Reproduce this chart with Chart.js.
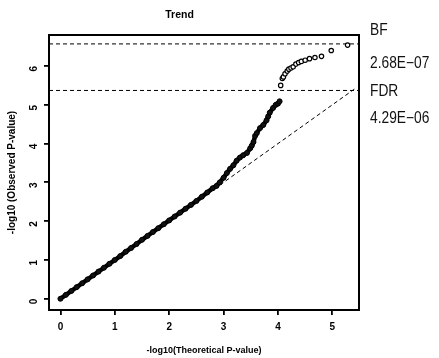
<!DOCTYPE html>
<html>
<head>
<meta charset="utf-8">
<script src="https://cdn.jsdelivr.net/npm/chart.js@4.4.1/dist/chart.umd.min.js"></script>
<style>
  html, body { margin: 0; padding: 0; background: #fff; }
  #wrap { position: relative; width: 439px; height: 358px; }
  .ann { position: absolute; left: 370px; font-family: "Liberation Sans", Arial, sans-serif; font-size: 16px; color: #111; line-height: 1; transform: scaleX(0.86); transform-origin: 0 0; white-space: nowrap; }
</style>
</head>
<body>
<div id="wrap">
  <canvas id="c" width="439" height="358"></canvas>
  <div class="ann" style="top:22px;">BF</div>
  <div class="ann" style="top:55px;">2.68E−07</div>
  <div class="ann" style="top:83px;">FDR</div>
  <div class="ann" style="top:110px;">4.29E−06</div>
</div>
<script>
// ---- data ----
const chartTitle = "Trend";
const xAxisTitle = "-log10(Theoretical P-value)";
const yAxisTitle = "-log10 (Observed P-value)";
const xTickValues = [0, 1, 2, 3, 4, 5];
const yTickValues = [0, 1, 2, 3, 4, 5, 6];

// dense body of the QQ curve (expected vs observed)
const denseX = [0.00,0.10,0.20,0.30,0.40,0.50,0.60,0.70,0.80,0.90,1.00,1.10,1.20,1.30,1.40,1.50,1.60,1.70,1.80,1.90,2.00,2.10,2.20,2.30,2.40,2.50,2.60,2.70,2.80,
                2.87,2.93,3.00,3.06,3.12,3.18,3.24,3.30,3.36,3.43,3.49,3.52,3.55,3.58,3.61,3.67,3.73,3.79,3.82,3.85,3.91,3.96,4.00,4.03];
const denseY = [0.00,0.10,0.20,0.30,0.40,0.50,0.60,0.70,0.80,0.90,1.00,1.10,1.21,1.31,1.41,1.52,1.62,1.72,1.82,1.92,2.02,2.12,2.22,2.32,2.42,2.52,2.63,2.74,2.85,
                2.91,3.00,3.12,3.24,3.35,3.44,3.56,3.64,3.70,3.76,3.88,3.95,4.04,4.20,4.27,4.40,4.48,4.60,4.70,4.80,4.92,5.00,5.03,5.09];

// separated top hits
const tailX = [4.05,4.08,4.10,4.13,4.17,4.20,4.24,4.28,4.33,4.38,4.43,4.50,4.58,4.68,4.80,4.98,5.28];
const tailY = [5.50,5.68,5.72,5.80,5.87,5.92,5.95,5.98,6.05,6.09,6.12,6.15,6.19,6.22,6.25,6.40,6.54];

// thresholds
const bfLevel = 6.57;   // -log10(2.68E-07)
const fdrLevel = 5.37;  // -log10(4.29E-06)
const diagEnd = 5.45;

const xMin = -0.21, xMax = 5.49, yMin = -0.29, yMax = 6.80;

const toPts = (xs, ys) => xs.map((x, i) => ({x, y: ys[i]}));

const boxPlugin = {
  id: 'box',
  afterDraw(chart) {
    const a = chart.chartArea, ctx = chart.ctx;
    ctx.save();
    ctx.strokeStyle = '#000';
    ctx.lineWidth = 2;
    ctx.strokeRect(a.left, a.top, a.right - a.left, a.bottom - a.top);
    ctx.restore();
  }
};

const ff = "'Liberation Sans', Arial, sans-serif";
const tickFont = { family: ff, size: 10, weight: 'bold' };

new Chart(document.getElementById('c'), {
  type: 'scatter',
  data: {
    datasets: [
      { label: 'BF', data: [{x: xMin, y: bfLevel}, {x: xMax, y: bfLevel}], showLine: true,
        borderColor: '#000', borderWidth: 1, borderDash: [4, 3], pointRadius: 0, order: 3 },
      { label: 'FDR', data: [{x: xMin, y: fdrLevel}, {x: xMax, y: fdrLevel}], showLine: true,
        borderColor: '#000', borderWidth: 1, borderDash: [4, 3], pointRadius: 0, order: 3 },
      { label: 'diag', data: [{x: 0, y: 0}, {x: diagEnd, y: diagEnd}], showLine: true,
        borderColor: '#000', borderWidth: 1, borderDash: [4, 3], pointRadius: 0, order: 3 },
      { label: 'dense', data: toPts(denseX, denseY), showLine: true,
        borderColor: '#000', borderWidth: 4.5, backgroundColor: '#000',
        pointRadius: 2.5, pointBorderWidth: 1, pointBorderColor: '#000', pointBackgroundColor: '#111', order: 1 },
      { label: 'tail', data: toPts(tailX, tailY), showLine: false,
        pointRadius: 2.2, pointBorderWidth: 1.2, pointBorderColor: '#000', pointBackgroundColor: '#fff', order: 1 }
    ]
  },
  options: {
    responsive: false,
    animation: false,
    layout: { padding: { left: 0, right: 80, top: 0, bottom: 0 } },
    plugins: {
      legend: { display: false },
      tooltip: { enabled: false },
      title: { display: true, text: chartTitle, color: '#000',
               font: { family: ff, size: 10.5, weight: 'bold' },
               padding: { top: 9, bottom: 13.4 } }
    },
    scales: {
      x: {
        type: 'linear', min: xMin, max: xMax,
        afterBuildTicks: s => { s.ticks = xTickValues.map(v => ({value: v})); },
        afterFit: s => { s.height = 48; },
        grid: { display: true, drawOnChartArea: false, drawTicks: true, tickLength: 5, color: '#000', lineWidth: 1.8 },
        border: { display: false },
        ticks: { color: '#000', font: tickFont, padding: 6, maxRotation: 0 },
        title: { display: true, text: xAxisTitle, color: '#000',
                 font: { family: ff, size: 9, weight: 'bold' },
                 padding: { top: 0, bottom: 2 } }
      },
      y: {
        type: 'linear', min: yMin, max: yMax,
        afterBuildTicks: s => { s.ticks = yTickValues.map(v => ({value: v})); },
        afterFit: s => { s.width = 49; },
        grid: { display: true, drawOnChartArea: false, drawTicks: true, tickLength: 5, color: '#000', lineWidth: 1.8 },
        border: { display: false },
        ticks: { color: '#000', font: tickFont, padding: 10, minRotation: 90, maxRotation: 90 },
        title: { display: true, text: yAxisTitle, color: '#000',
                 font: { family: ff, size: 10, weight: 'bold' },
                 padding: { top: 6, bottom: 0 } }
      }
    }
  },
  plugins: [boxPlugin]
});
</script>
</body>
</html>
